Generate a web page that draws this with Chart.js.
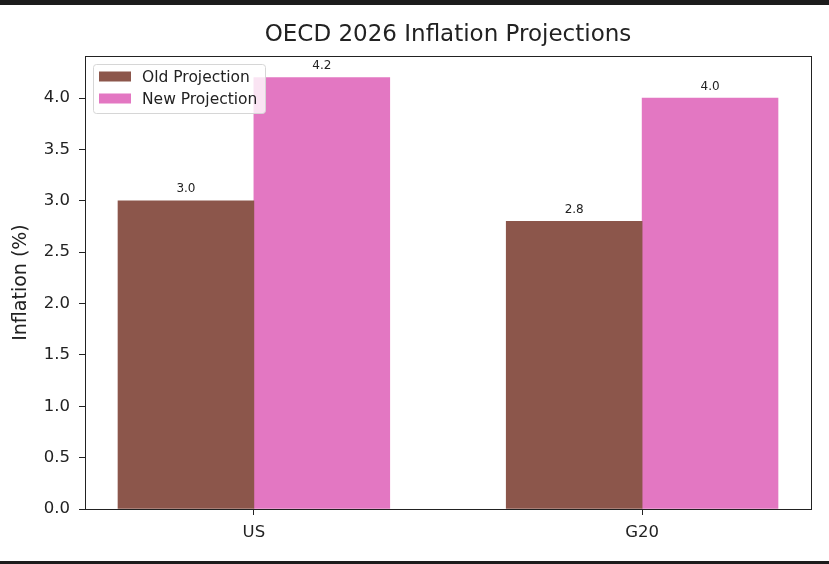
<!DOCTYPE html>
<html>
<head>
<meta charset="utf-8">
<script src="https://cdn.jsdelivr.net/npm/chart.js@4.4.1/dist/chart.umd.min.js"></script>
<style>
  html, body { margin: 0; padding: 0; background: #1c1c1c; }
  #wrap { position: absolute; left: 0; top: 5px; width: 829px; height: 556px; background: #fff; }
</style>
</head>
<body>
<div id="wrap"><canvas id="chart" width="829" height="556"></canvas></div>
<script>
// дані графіка
const categories = ['US', 'G20'];
const oldProjection = [3.0, 2.8];
const newProjection = [4.2, 4.0];
const seriesNames = ['Old Projection', 'New Projection'];
const yTicks = [0.0, 0.5, 1.0, 1.5, 2.0, 2.5, 3.0, 3.5, 4.0];

const barWidth = 0.35;
const colors = ['#8c564b', '#e377c2'];
const FONT = "'DejaVu Sans', sans-serif";

// позиції груп: зсув на півширини стовпця
const toPoints = (values, shift) => values.map((v, i) => ({ x: i + shift, y: v }));

// рамка навколо області графіка + підписи + легенда всередині
const framePlugin = {
    id: 'frame',
    afterDatasetsDraw(chart) {
        const { ctx, chartArea: a } = chart;
        ctx.save();
        ctx.strokeStyle = '#222';
        ctx.lineWidth = 1;
        ctx.strokeRect(a.left + 0.5, a.top + 0.5, a.right - a.left, a.bottom - a.top);

        // підписи значень над стовпцями
        ctx.font = '12px ' + FONT;
        ctx.fillStyle = '#222';
        ctx.textAlign = 'center';
        ctx.textBaseline = 'bottom';
        chart.data.datasets.forEach((ds, di) => {
            chart.getDatasetMeta(di).data.forEach((bar, i) => {
                ctx.fillText(ds.data[i].y.toFixed(1), bar.x, bar.y - 5.5);
            });
        });

        // легенда
        const lx = a.left + 8, ly = a.top + 8, lw = 172, lh = 49;
        ctx.beginPath();
        ctx.roundRect(lx + 0.5, ly + 0.5, lw, lh, 3);
        ctx.fillStyle = 'rgba(255,255,255,0.8)';
        ctx.fill();
        ctx.strokeStyle = '#d6d6d6';
        ctx.stroke();
        ctx.font = '15.5px ' + FONT;
        ctx.textAlign = 'left';
        ctx.textBaseline = 'middle';
        seriesNames.forEach((name, i) => {
            const cy = ly + 12.5 + i * 22;
            ctx.fillStyle = colors[i];
            ctx.fillRect(lx + 6, cy - 5, 32, 10);
            ctx.fillStyle = '#222';
            ctx.fillText(name, lx + 49, cy + 1);
        });
        ctx.restore();
    }
};

new Chart(document.getElementById('chart'), {
    type: 'bar',
    plugins: [framePlugin],
    data: {
        datasets: [
            { label: seriesNames[0], data: toPoints(oldProjection, -barWidth / 2), backgroundColor: colors[0] },
            { label: seriesNames[1], data: toPoints(newProjection, barWidth / 2), backgroundColor: colors[1] }
        ]
    },
    options: {
        responsive: false,
        animation: false,
        layout: { padding: { left: 0, right: 18, top: 0, bottom: 0 } },
        datasets: { bar: { grouped: false, barPercentage: 1, categoryPercentage: 1 } },
        plugins: {
            legend: { display: false },
            tooltip: { enabled: false },
            title: {
                display: true,
                fullSize: false,
                text: 'OECD 2026 Inflation Projections',
                color: '#222',
                font: { family: FONT, size: 23, weight: 'normal' },
                padding: { top: 16.5, bottom: 6.9 }
            }
        },
        scales: {
            x: {
                type: 'linear',
                offset: false,
                min: -0.435,
                max: 1.435,
                afterBuildTicks: (s) => { s.ticks = categories.map((c, i) => ({ value: i })); },
                afterFit: (s) => { s.height = 52; },
                grid: { drawOnChartArea: false, offset: false, tickLength: 6, color: '#222' },
                border: { display: false },
                ticks: {
                    color: '#222',
                    padding: 8,
                    font: { family: FONT, size: 16.5 },
                    callback: (v) => categories[v]
                }
            },
            y: {
                min: 0,
                max: 4.41,
                afterBuildTicks: (s) => { s.ticks = yTicks.map(v => ({ value: v })); },
                afterFit: (s) => { s.width = 85; },
                grid: { drawOnChartArea: false, tickLength: 6, color: '#222' },
                border: { display: false },
                ticks: {
                    color: '#222',
                    padding: 9,
                    font: { family: FONT, size: 16.5 },
                    callback: (v) => v.toFixed(1)
                },
                title: {
                    display: true,
                    text: 'Inflation (%)',
                    color: '#222',
                    font: { family: FONT, size: 19, lineHeight: 1 },
                    padding: { top: 12, bottom: 0 }
                }
            }
        }
    }
});
</script>
</body>
</html>
